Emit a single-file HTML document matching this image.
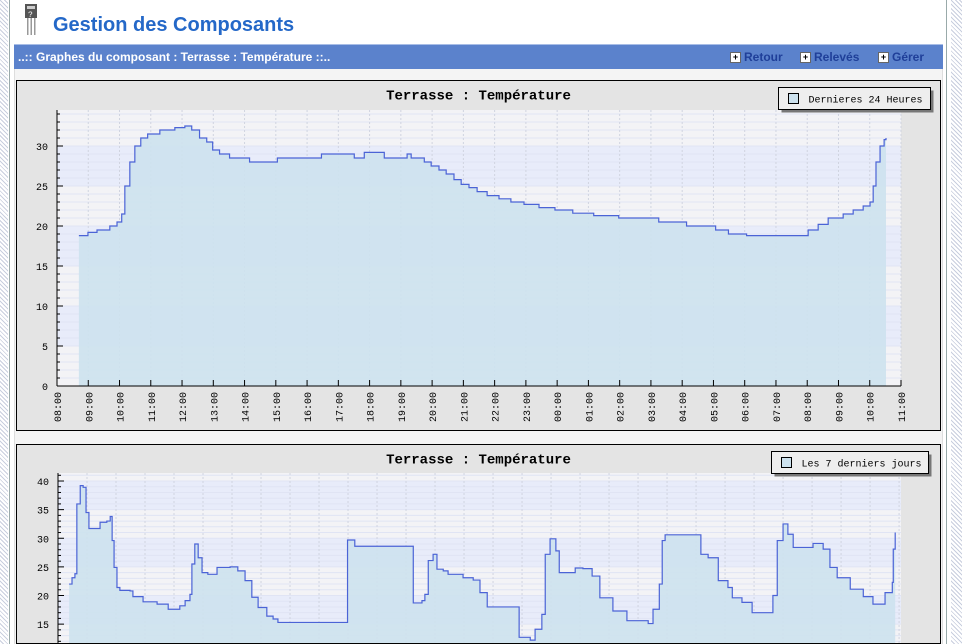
<!DOCTYPE html>
<html><head><meta charset="utf-8">
<style>
html,body{margin:0;width:962px;height:644px;overflow:hidden}
body{background:#fff;font-family:"Liberation Sans",sans-serif;position:relative}
.hatch{position:absolute;top:0;height:644px;background:repeating-linear-gradient(45deg,#fff 0 2px,#c8cede 2px 3px)}
#title{position:absolute;left:53px;top:14px;font-size:20px;font-weight:bold;color:#2468c8}
#bar{position:absolute;left:14px;top:44px;width:929px;height:24px;background:#5b82cc;border-top:1px solid #a8bde6}
#bar span{position:absolute;top:5px;font-size:12px;font-weight:bold;color:#fff}
.lnk{position:absolute;top:5px;font-size:12px;font-weight:bold;color:#1f3f99}
.lnk b{display:inline-block;width:9px;height:9px;background:#fff;border:1px solid #666;color:#000;font-size:9px;line-height:9px;text-align:center;margin-right:3px;vertical-align:1px}
#cont{position:absolute;left:14px;top:69px;width:929px;height:575px;background:#f4f4f4;border-left:1px solid #ddd;border-right:1px solid #ddd;box-sizing:border-box}
svg text{font-family:"Liberation Mono",monospace}
</style></head><body>
<div class="hatch" style="left:0;width:8px"></div>
<div style="position:absolute;left:9px;top:0;width:1px;height:644px;background:#9aa"></div>
<div class="hatch" style="left:951px;width:11px"></div>
<div style="position:absolute;left:946px;top:0;width:1px;height:644px;background:#9aa"></div>
<svg style="position:absolute;left:24px;top:4px" width="16" height="32"><rect x="1" y="0" width="12" height="14" fill="#555"/><rect x="3" y="2" width="8" height="3" fill="#ccc"/><text x="4" y="13" font-size="8" fill="#fff">?</text><rect x="3" y="14" width="1.5" height="17" fill="#999"/><rect x="6.5" y="14" width="1.5" height="17" fill="#999"/><rect x="10" y="14" width="1.5" height="17" fill="#999"/></svg>
<div id="title">Gestion des Composants</div>
<div id="cont"></div>
<div id="bar">
<span style="left:4px">..:: Graphes du composant : Terrasse : Température ::..</span>
<a class="lnk" style="left:716px"><b>+</b>Retour</a>
<a class="lnk" style="left:786px"><b>+</b>Relevés</a>
<a class="lnk" style="left:864px"><b>+</b>Gérer</a>
</div>
<svg id="c1" style="position:absolute;left:0;top:0;overflow:hidden" width="962" height="644"></svg>
<script>
// Chart 1: hours since 08:00, temperature (step)
const c1Hours=[0.70,0.99,1.28,1.69,1.92,2.07,2.17,2.33,2.49,2.68,2.90,3.29,3.77,4.09,4.31,4.56,4.79,4.98,5.20,5.52,6.16,7.05,8.46,9.51,9.83,10.47,11.20,11.33,11.75,11.97,12.22,12.45,12.70,12.93,13.18,13.44,13.76,14.14,14.52,14.94,15.42,15.93,16.50,17.17,17.97,19.25,20.14,21.07,21.48,22.06,23.72,24.03,24.35,24.67,25.15,25.47,25.79,26.01,26.11,26.20,26.33,26.46,26.52];
const c1Temps=[18.8,19.2,19.5,20,20.5,21.5,25,28,30,31,31.5,32,32.3,32.5,32,31,30.5,29.5,29,28.5,28,28.5,29,28.5,29.2,28.5,29,28.5,28,27.5,27,26.5,25.8,25.2,24.8,24.3,23.8,23.4,23,22.7,22.3,22,21.6,21.3,21,20.5,20,19.5,19,18.8,18.8,19.5,20.2,21,21.5,22,22.5,23,25,28,30,30.8,31];
const c1TickLabels=["08:00","09:00","10:00","11:00","12:00","13:00","14:00","15:00","16:00","17:00","18:00","19:00","20:00","21:00","22:00","23:00","00:00","01:00","02:00","03:00","04:00","05:00","06:00","07:00","08:00","09:00","10:00","11:00"];
const c1YLabels=[0,5,10,15,20,25,30];
// Chart 2: hours since start of window, temperature
const c2Hours=[2.3,2.9,3.5,3.9,4.6,5.2,5.8,6.4,7.7,8.7,10.1,10.8,11.2,11.6,12.2,12.8,14.9,15.5,17.6,20.5,22.8,25.2,26.3,27.3,27.7,28.3,29.0,29.8,31.0,32.9,35.6,37.2,38.7,40.1,41.4,43.2,44.5,45.5,59.8,59.9,61.2,61.4,73.2,73.5,75.3,75.9,76.6,77.6,78.4,79.7,80.7,82.8,83.8,85.9,87.3,88.8,95.2,95.4,97.7,98.7,100.1,100.8,101.8,103.0,103.7,105.9,107.0,108.6,110.5,112.1,114.8,117.7,122.1,123.1,124.4,125.0,125.6,132.8,133.0,134.5,136.6,138.6,139.5,141.5,143.6,146.3,147.9,148.8,150.0,151.0,152.1,153.5,156.2,158.3,159.7,161.2,163.9,166.6,168.6,170.1,171.1,172.6,172.8,173.2];
const c2Temps=[22,23.1,23.8,36,39.2,38.9,34.5,31.7,31.7,32.8,33,33.8,29.6,24.9,21.4,20.9,20.8,19.8,18.9,18.5,17.6,18.2,19.1,20.2,25.5,29,26.6,24,23.7,24.9,25,24.3,22.6,19.7,17.9,16.4,15.9,15.3,15.3,29.7,29.7,28.6,28.6,18.7,19.1,20.2,26.1,27.2,24.6,24.3,23.7,23.7,23.1,22.7,20.5,18,18,12.7,12.2,14.1,16.7,27.2,29.9,27.8,24,24,24.8,24.7,23.4,19.6,17.3,15.6,15.1,17.6,22,29.6,30.6,30.6,27.2,26.6,22.6,21.4,19.6,18.8,17,17,20,29.6,32.5,30.7,28.4,28.4,29.1,28.1,24.9,23.1,21.1,19.8,18.5,18.5,20.5,22.3,28.1,31];
const c2YLabels=[0,5,10,15,20,25,30,35,40];

const svg=document.getElementById('c1');
const NS='http://www.w3.org/2000/svg';
function mk(tag,at,parent){const e=document.createElementNS(NS,tag);for(const k in at)e.setAttribute(k,at[k]);(parent||svg).appendChild(e);return e;}

function chart(o){
  const g=mk('g',{});
  
  
  const fr=mk('rect',{x:o.fx,y:o.fy,width:o.fw,height:o.fh,fill:'#e4e4e4',stroke:'#000','stroke-width':1},g);
  
  
  const X=v=>o.px+(v-o.xmin)/(o.xmax-o.xmin)*(o.pr-o.px);
  const Y=v=>o.pb-(v-o.ymin)/(o.ymax-o.ymin)*(o.pb-o.pt);
  const ybot=Math.min(o.pb,o.fy+o.fh-0.5);
  mk('rect',{x:o.px,y:o.pt,width:o.pr-o.px,height:ybot-o.pt,fill:'#f3f3f6'},g);
  for(let v=o.ymin;v<o.ymax;v+=5){ if((v/5)%2==1){const y1=Y(v+5),y2=Math.min(Y(v),ybot);if(y2>y1)mk('rect',{x:o.px,y:Math.max(y1,o.pt),width:o.pr-o.px,height:y2-Math.max(y1,o.pt),fill:'#e8ecfa'},g);}}
  for(let v=o.ymin;v<=o.ymax;v+=1){const y=Y(v);if(y<o.pt||y>ybot)continue;mk('line',{x1:o.px,x2:o.pr,y1:y,y2:y,stroke:'#e0e4f4','stroke-width':1},g);}
  for(let v=o.xmin;v<=o.xmax;v+=o.xgrid){mk('line',{x1:X(v),x2:X(v),y1:o.pt,y2:ybot,stroke:'#d0d4e0','stroke-dasharray':'2,2'},g);}
  const base=Math.min(Y(0),ybot);
  let d='M'+X(o.xs[0])+','+base;
  let l='';
  for(let i=0;i<o.xs.length;i++){const x=X(o.xs[i]),y=Y(o.ys[i]);
    if(i==0){d+=' L'+x+','+y;l='M'+x+','+y;}else{d+=' H'+x+' V'+y;l+=' H'+x+' V'+y;}}
  d+=' V'+base+' Z';
  const area=mk('path',{d:d,fill:'#cde2ee',opacity:0.9},g);
  
  
  const line=mk('path',{d:l,fill:'none',stroke:'#4b63d6','stroke-width':1.2},g);
  
  
  mk('line',{x1:o.px,x2:o.px,y1:o.pt,y2:ybot,stroke:'#000'},g);
  for(let v=o.ymin;v<=o.ymax;v+=1){const y=Y(v);if(y<o.pt||y>ybot)continue;mk('line',{x1:o.px,x2:o.px+(v%5==0?6:3),y1:y,y2:y,stroke:'#000'},g);}
  o.ylab.forEach(v=>{const y=Y(v);if(y<o.pt-2||y>o.fy+o.fh-6)return;const t=mk('text',{x:o.px-9,y:y+4,'font-size':10,'text-anchor':'end',fill:'#000'},g);t.textContent=v;
    
    });
  if(o.xlab){
    mk('line',{x1:o.px,x2:o.pr,y1:o.pb,y2:o.pb,stroke:'#000'},g);
    o.xlab.forEach((s,i)=>{const x=X(i);mk('line',{x1:x,x2:x,y1:o.pb,y2:o.pb-6,stroke:'#000'},g);
      const t=mk('text',{transform:'translate('+(x+4)+','+(o.pb+36)+') rotate(-90)','font-size':10,fill:'#000'},g);t.textContent=s;
      
      });
  }
  const tt=mk('text',{x:(o.fx+o.fx+o.fw)/2,y:o.fy+19,'font-size':14,'text-anchor':'middle','font-weight':'bold',fill:'#000'},g);tt.textContent='Terrasse : Température';
  
  
  const lg=mk('g',{},g);
  
  
  mk('rect',{x:o.lx+3,y:o.ly+3,width:o.lw,height:22,fill:'#777'},lg);
  mk('rect',{x:o.lx,y:o.ly,width:o.lw,height:22,fill:'#eee',stroke:'#000'},lg);
  mk('rect',{x:o.lx+10,y:o.ly+6,width:10,height:10,fill:'#cde2ee',stroke:'#000'},lg);
  const lt=mk('text',{x:o.lx+30,y:o.ly+15,'font-size':10,fill:'#000'},lg);lt.textContent=o.leg;
}
chart({name:'chart-24h',fx:16.5,fy:80.5,fw:924,fh:350,px:57,pr:901,pt:110,pb:386,xmin:0,xmax:27,ymin:0,ymax:34.5,xgrid:1,
  xs:c1Hours,ys:c1Temps,ylab:c1YLabels,xlab:c1TickLabels,lx:778.5,ly:87.5,lw:152,leg:'Dernieres 24 Heures'});
chart({name:'chart-7days',fx:16.5,fy:444.5,fw:924,fh:199,px:58,pr:901,pt:473,pb:710,xmin:0,xmax:174.4,ymin:0,ymax:41.4,xgrid:6,
  xs:c2Hours,ys:c2Temps,ylab:c2YLabels,xlab:null,lx:771.5,ly:451.5,lw:157,leg:'Les 7 derniers jours'});
</script>
</body></html>
